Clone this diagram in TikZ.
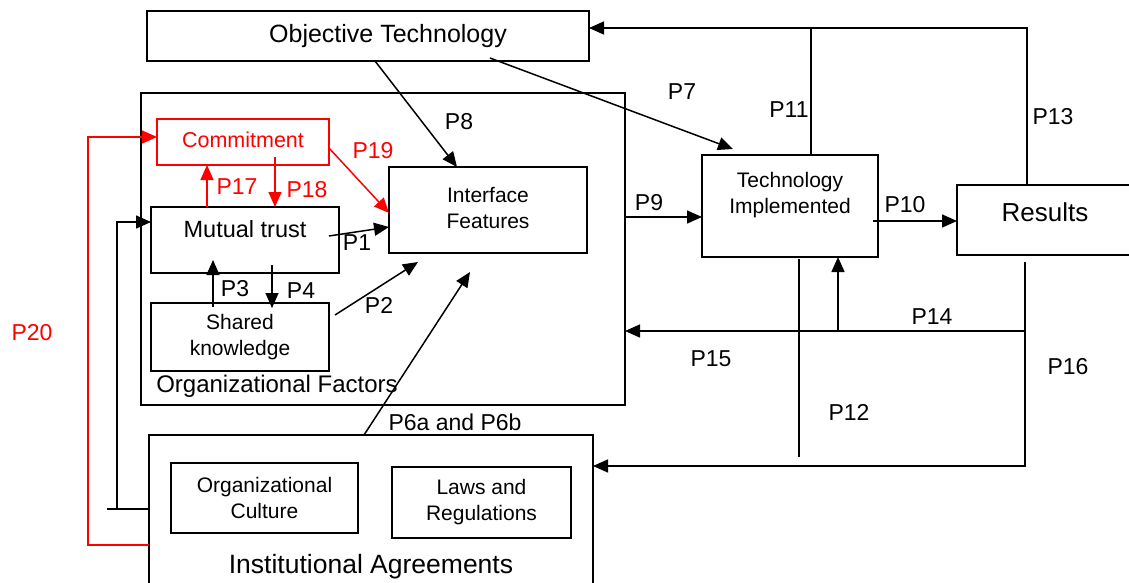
\documentclass[tikz,border=0pt]{standalone}
\usepackage{fontspec}
\setmainfont{Liberation Sans}
\usetikzlibrary{arrows.meta}
\begin{document}
\begin{tikzpicture}[x=1pt,y=-1pt,
  every node/.style={inner sep=0pt, outer sep=0pt},
  box/.style={draw, line width=1.5pt, rectangle},
  rbox/.style={box, draw=red},
  conn/.style={line width=1.5pt},
  arr/.style={conn, -{Triangle[length=15pt,width=13pt]}},
  rconn/.style={conn, draw=red},
  rarr/.style={arr, draw=red},
  plab/.style={font=\fontsize{23}{27}\selectfont},
  rlab/.style={plab, text=red},
  btxt/.style={font=\fontsize{21}{26}\selectfont, align=center},
]
\useasboundingbox (0,0) rectangle (1129,583);

% boxes
\node[box, minimum width=442pt, minimum height=50pt,
  label={[font=\fontsize{25}{30}\selectfont, xshift=20pt]center:Objective Technology}] (obj) at (368,36) {};
\node[box, minimum width=484pt, minimum height=312pt] (orgf) at (383,249) {};
\node[font=\fontsize{24}{28}\selectfont] (orgfl) at (277,386) {Organizational Factors};
\node[rbox, minimum width=172pt, minimum height=46pt,
  label={[font=\fontsize{21.5}{26}\selectfont, text=red, yshift=2pt]center:Commitment}] (com) at (243,142) {};
\node[box, minimum width=188pt, minimum height=66pt,
  label={[font=\fontsize{23.5}{28}\selectfont, yshift=11pt]center:Mutual trust}] (mt) at (245,240) {};
\node[box, minimum width=178pt, minimum height=68pt,
  label={[btxt]center:Shared\\knowledge}] (sk) at (240,337) {};
\node[box, minimum width=198pt, minimum height=86pt,
  label={[btxt, yshift=2pt]center:Interface\\Features}] (inf) at (488,210) {};
\node[box, minimum width=176pt, minimum height=102pt,
  label={[btxt, yshift=11pt]center:Technology\\Implemented}] (ti) at (790,206) {};
\node[box, minimum width=180pt, minimum height=70pt,
  label={[font=\fontsize{26}{30}\selectfont, yshift=8pt, xshift=-2pt]center:Results}] (res) at (1047,220) {};
\node[box, minimum width=444pt, minimum height=160pt] (inst) at (371,515) {};
\node[font=\fontsize{26.5}{30}\selectfont] (instl) at (371,567) {Institutional Agreements};
\node[box, minimum width=187pt, minimum height=70pt,
  label={[btxt]center:Organizational\\Culture}] (oc) at (264.5,498) {};
\node[box, minimum width=179pt, minimum height=71pt,
  label={[btxt]center:Laws and\\Regulations}] (laws) at (481.5,502.5) {};

% coordinates
\coordinate (r1) at (88,545);
\coordinate (t1) at (107,509);
\coordinate (t2) at (117,509);
\coordinate (y9) at (0,217);
\coordinate (c11) at (811,28);
\coordinate (c13) at (1027,28);
\coordinate (c12) at (799,457);
\coordinate (c14) at (1025,331);
\coordinate (c16) at (1025,466);
\coordinate (cup) at (838,331);

% red connectors
\draw[rarr] (inst.west |- r1) -- (r1) |- ([yshift=5pt]com.west);
\draw[rarr] ([xshift=-38pt]mt.north) -- ([xshift=-36pt]com.south);
\draw[rarr] ([xshift=32pt,yshift=8pt]com.south) -- ([xshift=30pt]mt.north);
\draw[rarr] ([yshift=-6pt]com.east) -- ([yshift=-3pt]inf.west);

% black connectors
\draw[conn] (t1) -- (inst.west |- t1);
\draw[arr] (t2) |- ([yshift=18pt]mt.west);
\draw[arr] ([xshift=-10pt,yshift=4pt]mt.east) -- ([yshift=-17pt]inf.west);
\draw[arr] ([xshift=-27pt,yshift=-4pt]sk.north) -- ([xshift=-32pt,yshift=13pt]mt.south);
\draw[arr] ([xshift=27pt,yshift=8pt]mt.south) -- ([xshift=32pt,yshift=-5pt]sk.north);
\draw[arr] ([xshift=6pt,yshift=22pt]sk.east) -- ([xshift=-70pt,yshift=-9pt]inf.south);
\draw[arr] ([xshift=-7pt]inst.north) -- ([xshift=-18pt,yshift=-19pt]inf.south);
\draw[arr] ([xshift=7pt]obj.south) -- ([xshift=-31pt]inf.north);
\draw[arr] ([xshift=122pt,yshift=3pt]obj.south) -- ([xshift=-57pt,yshift=6pt]ti.north);
\draw[arr] (orgf.east |- y9) -- (ti.west |- y9);
\draw[arr] ([xshift=-5pt,yshift=-15pt]ti.east) -- ([yshift=-1pt]res.west);
\draw[conn] (ti.north -| c11) -- (c11);
\draw[arr] (res.north -| c13) -- (c13) -- (obj.east |- c13);
\draw[conn, shorten <=2pt] (ti.south -| c12) -- (c12);
\draw[arr, shorten <=7pt] (res.south -| c16) -- (c16) -- (inst.east |- c16);
\draw[arr] (c14) -- (orgf.east |- c14);
\draw[arr] (cup) -- (ti.south -| cup);

% labels
\node[plab] (l8) at (459,122) {P8};
\node[plab] (l7) at (682,92) {P7};
\node[plab] (l11) at (789,110) {P11};
\node[plab] (l13) at (1053,117) {P13};
\node[rlab] (l19) at (373,151) {P19};
\node[rlab] (l17) at (237,187) {P17};
\node[rlab] (l18) at (307,190) {P18};
\node[plab] (l1) at (357,243) {P1};
\node[plab] (l9) at (649,203) {P9};
\node[plab] (l10) at (905,205) {P10};
\node[plab] (l3) at (235,289) {P3};
\node[plab] (l4) at (301,291) {P4};
\node[plab] (l2) at (379,305) {P2};
\node[plab] (l14) at (932,317) {P14};
\node[plab] (l15) at (711,359) {P15};
\node[plab] (l16) at (1068,367) {P16};
\node[plab] (l12) at (849,412) {P12};
\node[plab] (l6) at (455,422) {P6a and P6b};
\node[rlab] (l20) at (32,333) {P20};
\end{tikzpicture}
\end{document}
